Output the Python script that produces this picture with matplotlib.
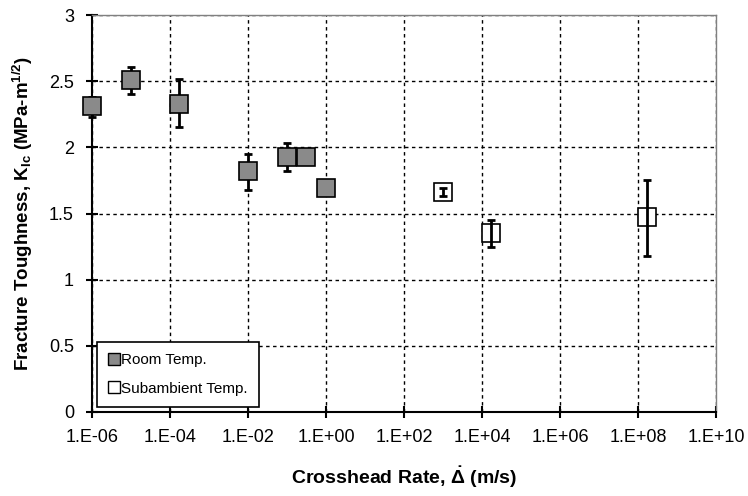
import numpy as np
import matplotlib.pyplot as plt
from matplotlib.ticker import FixedLocator, FuncFormatter, NullLocator
from matplotlib.lines import Line2D

plt.rcParams['font.family'] = ['Liberation Sans', 'DejaVu Sans']
plt.rcParams['mathtext.fontset'] = 'custom'
plt.rcParams['mathtext.rm'] = 'Liberation Sans'
plt.rcParams['mathtext.bf'] = 'Liberation Sans:bold'

# room temperature data
room_rate = [1e-6, 1e-5, 1.7e-4, 1e-2, 1e-1, 3e-1, 1e0]
room_k = [2.31, 2.51, 2.33, 1.82, 1.93, 1.93, 1.69]
room_low = [2.23, 2.40, 2.15, 1.68, 1.82, 1.93, 1.69]
room_high = [2.38, 2.61, 2.52, 1.95, 2.03, 1.93, 1.69]

# subambient data
sub_rate = [1e3, 1.7e4, 1.7e8]
sub_k = [1.66, 1.35, 1.47]
sub_low = [1.63, 1.25, 1.18]
sub_high = [1.69, 1.45, 1.75]

x_ticks = [1e-6, 1e-4, 1e-2, 1e0, 1e2, 1e4, 1e6, 1e8, 1e10]
y_ticks = [0, 0.5, 1, 1.5, 2, 2.5, 3]

fig = plt.figure(figsize=(7.48, 4.96), dpi=100)
ax = fig.add_axes([92 / 748, 1 - 412 / 496, 624 / 748, 397 / 496])

room_err = [np.array(room_k) - np.array(room_low), np.array(room_high) - np.array(room_k)]
sub_err = [np.array(sub_k) - np.array(sub_low), np.array(sub_high) - np.array(sub_k)]

# room temp: markers over the bars; subambient: bars over the open squares
ax.errorbar(room_rate, room_k, yerr=room_err, fmt='none', ecolor='black',
            elinewidth=2, capsize=2.7, capthick=2, zorder=3, clip_on=False)
ax.plot(room_rate, room_k, 's', ms=13, mfc='#8a8a8a', mec='black', mew=1.2,
        zorder=4, clip_on=False)

ax.plot(sub_rate, sub_k, 's', ms=12.5, mfc='white', mec='black', mew=1.2,
        zorder=4, clip_on=False)
ax.errorbar(sub_rate, sub_k, yerr=sub_err, fmt='none', ecolor='black',
            elinewidth=2, capsize=2.7, capthick=2, zorder=5, clip_on=False)

ax.set_xscale('log')
ax.set_xlim(1e-6, 1e10)
ax.set_ylim(0, 3)
ax.xaxis.set_major_locator(FixedLocator(x_ticks))
ax.xaxis.set_minor_locator(NullLocator())
ax.xaxis.set_major_formatter(FuncFormatter(lambda v, p: '1.E%+03d' % int(round(np.log10(v)))))
ax.yaxis.set_major_locator(FixedLocator(y_ticks))
ax.yaxis.set_major_formatter(FuncFormatter(lambda v, p: '%g' % v))

ax.grid(True, color='black', linestyle=(0, (2.5, 2.5)), linewidth=1)
ax.set_axisbelow(True)

for side in ['top', 'right']:
    ax.spines[side].set_color('#808080')
    ax.spines[side].set_linewidth(1)
for side in ['left', 'bottom']:
    ax.spines[side].set_color('black')
    ax.spines[side].set_linewidth(1.5)

ax.tick_params(axis='both', direction='inout', length=8, width=1.5, labelsize=13)
ax.tick_params(axis='x', pad=8)
ax.tick_params(axis='y', pad=9)

ax.set_xlabel(r'Crosshead Rate, $\mathbf{\dot{\Delta}}$ (m/s)', fontsize=14,
              fontweight='bold', labelpad=14)
ax.set_ylabel(r'Fracture Toughness, $\mathbf{K_{Ic}}$ (MPa-m$^{\mathbf{1/2}}$)',
              fontsize=13.5, fontweight='bold', labelpad=10)

handles = [
    Line2D([], [], marker='s', ls='none', ms=9, mfc='#8a8a8a', mec='black', mew=1),
    Line2D([], [], marker='s', ls='none', ms=9, mfc='white', mec='black', mew=1),
]
leg = ax.legend(handles, ['Room Temp.', 'Subambient Temp.'], loc='lower left',
                bbox_to_anchor=(0.008, 0.012), borderaxespad=0, fontsize=11,
                fancybox=False, edgecolor='black', framealpha=1, handlelength=0.7,
                handletextpad=0.15, labelspacing=0.95, borderpad=0.75)
leg.get_frame().set_linewidth(1.2)

fig.savefig('out.png', dpi=100)
